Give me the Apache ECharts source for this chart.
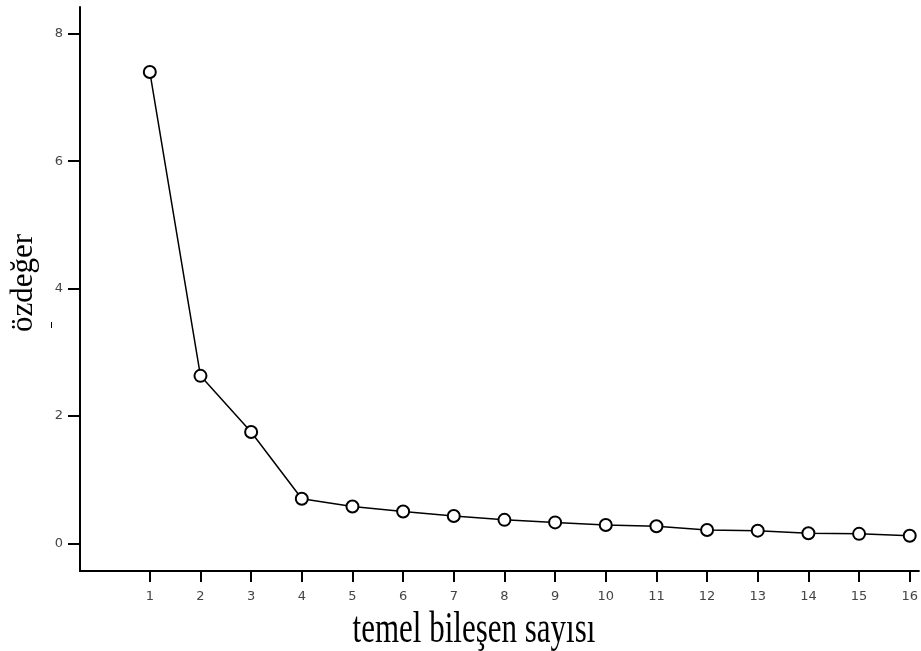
<!DOCTYPE html>
<html>
<head>
<meta charset="utf-8">
<script src="https://cdn.jsdelivr.net/npm/echarts@6/dist/echarts.min.js"></script>
<style>
html, body { margin: 0; padding: 0; background: #fff; }
#chart { width: 921px; height: 651px; }
</style>
</head>
<body>
<div id="chart"></div>
<script>
var components = [1, 2, 3, 4, 5, 6, 7, 8, 9, 10, 11, 12, 13, 14, 15, 16];
var eigenvalues = [7.40, 2.63, 1.75, 0.70, 0.58, 0.50, 0.43, 0.37, 0.33, 0.29, 0.27, 0.21, 0.20, 0.16, 0.15, 0.12];
var yTicks = [0, 2, 4, 6, 8];

var chart = echarts.init(document.getElementById('chart'));

var points = components.map(function (c, i) {
	return [c, eigenvalues[i]];
});

var option = {
	animation: false,
	backgroundColor: '#fff',
	grid: { left: 80, right: 0, top: 7, bottom: 80 },
	xAxis: {
		type: 'value',
		min: -0.378,
		max: 16.18,
		axisLine: { onZero: false, lineStyle: { color: '#000', width: 2 } },
		axisTick: { customValues: components, length: 11, lineStyle: { color: '#000', width: 2 } },
		axisLabel: { customValues: components, margin: 19, fontFamily: 'DejaVu Sans', fontSize: 13, color: '#444' },
		splitLine: { show: false }
	},
	yAxis: {
		type: 'value',
		min: -0.433,
		max: 8.42,
		axisLine: { show: true, onZero: false, lineStyle: { color: '#000', width: 2 } },
		axisTick: { show: true, customValues: yTicks, inside: false, length: 12, lineStyle: { color: '#000', width: 2 } },
		axisLabel: { customValues: yTicks, margin: 17, fontFamily: 'DejaVu Sans', fontSize: 13, color: '#444' },
		splitLine: { show: false }
	},
	graphic: [{
		// x axis title, a bit stretched in height like the original
		type: 'text',
		x: 474,
		y: 652,
		scaleY: 1.42,
		style: {
			text: 'temel bileşen sayısı',
			font: '31px "Liberation Serif"',
			fill: '#000',
			align: 'center',
			verticalAlign: 'bottom'
		}
	}, {
		type: 'text',
		x: 24,
		y: 283,
		rotation: Math.PI / 2,
		style: {
			text: 'özdeğer',
			font: '31px "Liberation Serif"',
			fill: '#000',
			align: 'center',
			verticalAlign: 'middle'
		}
	}, {
		type: 'rect',
		shape: { x: 51, y: 322, width: 1, height: 6 },
		style: { fill: '#000' }
	}],
	series: [{
		type: 'line',
		data: points,
		symbol: 'emptyCircle',
		symbolSize: 12,
		color: '#000',
		lineStyle: { color: '#000', width: 1.5 },
		itemStyle: { color: '#000', borderColor: '#000', borderWidth: 1.5 }
	}]
};

chart.setOption(option);
</script>
</body>
</html>
